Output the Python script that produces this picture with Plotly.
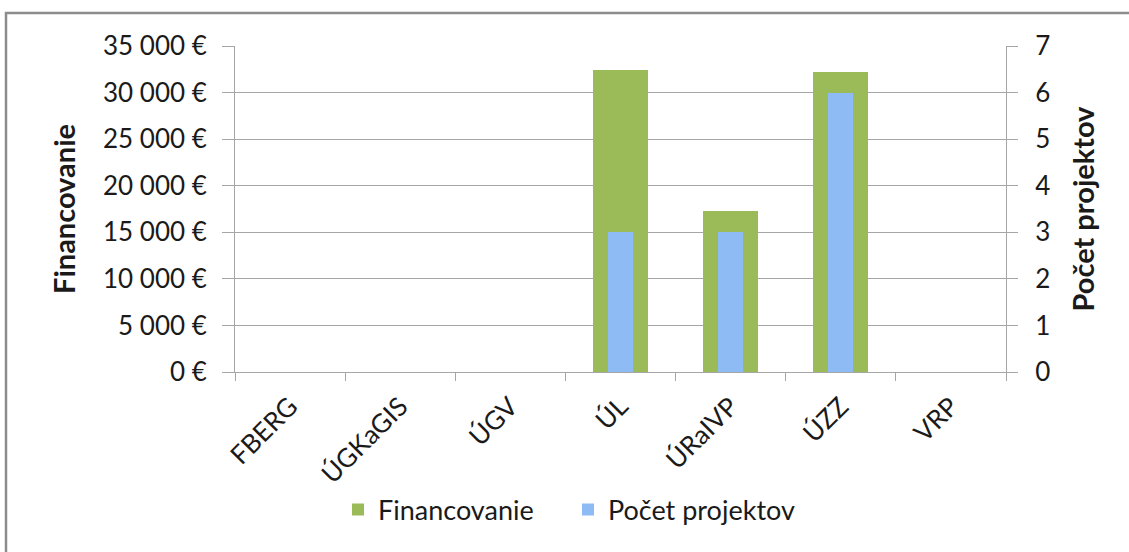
import plotly.graph_objects as go

categories = ["FBERG", "ÚGKaGIS", "ÚGV", "ÚL", "ÚRaIVP", "ÚZZ", "VRP"]
financovanie = [0, 0, 0, 32440, 17300, 32260, 0]
pocet_projektov = [0, 0, 0, 3, 3, 6, 0]

left_tickvals = [0, 5000, 10000, 15000, 20000, 25000, 30000, 35000]
left_ticktext = ["0 €", "5 000 €", "10 000 €", "15 000 €", "20 000 €", "25 000 €", "30 000 €", "35 000 €"]
right_tickvals = [0, 1, 2, 3, 4, 5, 6, 7]

W, H = 1129, 552
L, R, T, B = 235, 1129 - 1006, 46, 552 - 372
pw, ph = W - L - R, H - T - B

FONT = "Lato, 'Open Sans', sans-serif"
GRID = "#a6a6a6"

fig = go.Figure()
fig.add_trace(go.Bar(
    x=categories, y=financovanie, name="Financovanie", width=0.5,
    marker=dict(color="#9bbb59", line=dict(width=0)),
    yaxis="y",
))
fig.add_trace(go.Bar(
    x=categories, y=pocet_projektov, name="Počet projektov", width=0.23,
    marker=dict(color="#8fbbf4", line=dict(width=0)),
    yaxis="y2",
))

fig.update_layout(
    width=W, height=H,
    margin=dict(l=L, r=R, t=T, b=B, autoexpand=False),
    paper_bgcolor="white", plot_bgcolor="white",
    barmode="overlay", bargap=0,
    font=dict(family=FONT, size=26, color="#1a1a1a"),
    showlegend=True,
    legend=dict(orientation="h", x=(338 - L) / pw, xanchor="left",
                y=-(510 - T - ph) / ph, yanchor="middle",
                font=dict(size=27), itemwidth=30, traceorder="normal",
                entrywidth=185, entrywidthmode="pixels"),
    xaxis=dict(
        type="category", showgrid=False, showline=True, linecolor=GRID, linewidth=1,
        ticks="outside", tickson="boundaries", ticklen=8, tickcolor=GRID,
        tickangle=-45, tickfont=dict(size=26), range=[-0.5, 6.5],
        ticklabelshift=0, ticklabelstandoff=8,
    ),
    yaxis=dict(
        range=[0, 35000], tickvals=left_tickvals, ticktext=left_ticktext,
        showgrid=True, gridcolor=GRID, gridwidth=1, zeroline=False,
        showline=True, linecolor=GRID, ticks="outside", ticklen=12, tickcolor=GRID,
        ticklabelstandoff=10, tickfont=dict(size=26),
        title=dict(text="<b>Financovanie</b>", font=dict(size=29), standoff=18),
    ),
    yaxis2=dict(
        range=[0, 7], tickvals=right_tickvals, overlaying="y", side="right",
        showgrid=False, zeroline=False,
        showline=True, linecolor=GRID, ticks="outside", ticklen=11, tickcolor=GRID,
        ticklabelstandoff=12, tickfont=dict(size=26),
        title=dict(text="<b>Počet projektov</b>", font=dict(size=29), standoff=24),
    ),
    shapes=[dict(
        type="rect", xref="paper", yref="paper",
        x0=(6 - L) / pw, x1=(1135 - L) / pw,
        y0=-(560 - T - ph) / ph, y1=(H - 13 - B) / ph,
        line=dict(color="#8c8c8c", width=2.5), fillcolor="rgba(0,0,0,0)", layer="below",
    )],
)

fig.write_html(
    "out.html",
    config={"displayModeBar": False},
    post_script="document.body.style.margin='0';document.body.style.overflow='hidden';",
)
